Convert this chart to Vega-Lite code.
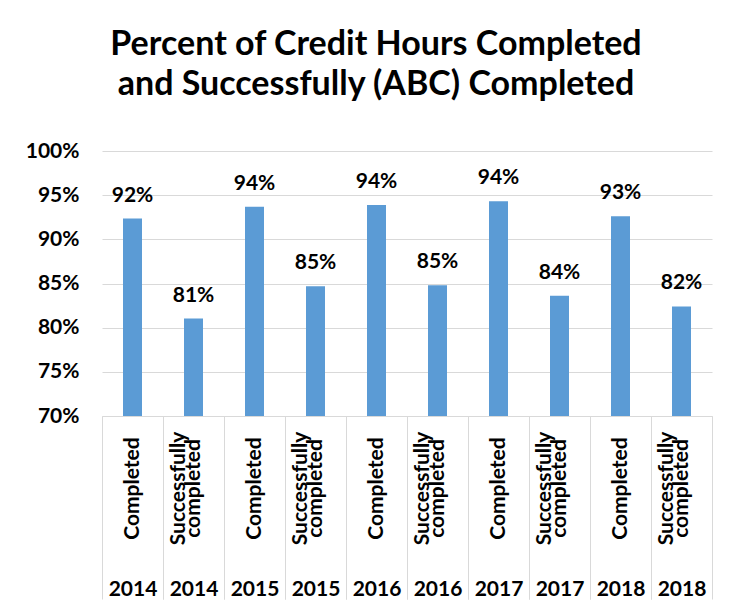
{
  "$schema": "https://vega.github.io/schema/vega-lite/v6.json",
  "autosize": "none",
  "width": 610,
  "height": 265,
  "padding": {"left": 102, "top": 151, "right": 20, "bottom": 193},
  "background": "white",
  "config": {
    "font": "Lato",
    "view": {"stroke": null}
  },
  "title": {
    "text": ["Percent of Credit Hours Completed", "and Successfully (ABC) Completed"],
    "font": "Lato",
    "fontSize": 34,
    "fontWeight": "bold",
    "lineHeight": 40,
    "color": "#000000",
    "anchor": "middle",
    "dx": -31,
    "offset": 38
  },
  "data": {
    "values": [
      {"key": "2014 Completed", "year": "2014", "measure": "Completed", "pct": 0.9235},
      {"key": "2014 Successfully completed", "year": "2014", "measure": "Successfully completed", "pct": 0.8103},
      {"key": "2015 Completed", "year": "2015", "measure": "Completed", "pct": 0.937},
      {"key": "2015 Successfully completed", "year": "2015", "measure": "Successfully completed", "pct": 0.847},
      {"key": "2016 Completed", "year": "2016", "measure": "Completed", "pct": 0.939},
      {"key": "2016 Successfully completed", "year": "2016", "measure": "Successfully completed", "pct": 0.848},
      {"key": "2017 Completed", "year": "2017", "measure": "Completed", "pct": 0.943},
      {"key": "2017 Successfully completed", "year": "2017", "measure": "Successfully completed", "pct": 0.836},
      {"key": "2018 Completed", "year": "2018", "measure": "Completed", "pct": 0.926},
      {"key": "2018 Successfully completed", "year": "2018", "measure": "Successfully completed", "pct": 0.824}
    ]
  },
  "resolve": {"axis": {"x": "independent"}},
  "layer": [
    {
      "mark": {"type": "bar", "color": "#5B9BD5", "width": 19},
      "encoding": {
        "x": {
          "field": "key",
          "type": "nominal",
          "sort": null,
          "scale": {"paddingInner": 0, "paddingOuter": 0},
          "axis": {
            "orient": "bottom",
            "title": null,
            "domain": true,
            "domainColor": "#d9d9d9",
            "domainWidth": 1,
            "ticks": true,
            "tickSize": 183,
            "tickOffset": 30.5,
            "tickColor": "#d9d9d9",
            "tickWidth": 1,
            "labelOffset": -45.5,
            "labelAngle": 270,
            "labelAlign": "center",
            "labelBaseline": "middle",
            "labelPadding": -111,
            "labelLineHeight": 15,
            "labelFont": "Lato",
            "labelFontWeight": "bold",
            "labelFontSize": 21,
            "labelColor": "#000000",
            "labelOverlap": false,
            "labelFlush": false,
            "labelBound": false,
            "labelExpr": "indexof(datum.value, 'Successfully') >= 0 ? ['Successfully', '', 'completed'] : ['', 'Completed']"
          }
        },
        "y": {
          "field": "pct",
          "type": "quantitative",
          "scale": {"domain": [0.7, 1.0], "zero": false, "nice": false, "clamp": true},
          "axis": {
            "title": null,
            "values": [0.7, 0.75, 0.8, 0.85, 0.9, 0.95, 1.0],
            "format": ".0%",
            "domain": false,
            "ticks": false,
            "grid": true,
            "gridColor": "#d9d9d9",
            "gridWidth": 1,
            "labelPadding": 23,
            "labelFont": "Lato",
            "labelFontWeight": "bold",
            "labelFontSize": 21,
            "labelColor": "#000000"
          }
        }
      }
    },
    {
      "mark": {"type": "text", "dy": -17, "baseline": "alphabetic", "font": "Lato", "fontWeight": "bold", "fontSize": 21, "color": "#000000"},
      "encoding": {
        "x": {
          "field": "key",
          "type": "nominal",
          "sort": null,
          "axis": {
            "orient": "bottom",
            "title": null,
            "domain": false,
            "ticks": true,
            "tickSize": 183,
            "tickOffset": -30.5,
            "tickColor": "#d9d9d9",
            "tickWidth": 1,
            "labelOffset": 30.5,
            "grid": false,
            "labelAngle": 0,
            "labelAlign": "center",
            "labelBaseline": "bottom",
            "labelPadding": 0,
            "labelFont": "Lato",
            "labelFontWeight": "bold",
            "labelFontSize": 21,
            "labelColor": "#000000",
            "labelOverlap": false,
            "labelFlush": false,
            "labelBound": false,
            "labelExpr": "slice(datum.value, 0, 4)"
          }
        },
        "y": {"field": "pct", "type": "quantitative"},
        "text": {"field": "pct", "type": "quantitative", "format": ".0%"}
      }
    }
  ]
}
